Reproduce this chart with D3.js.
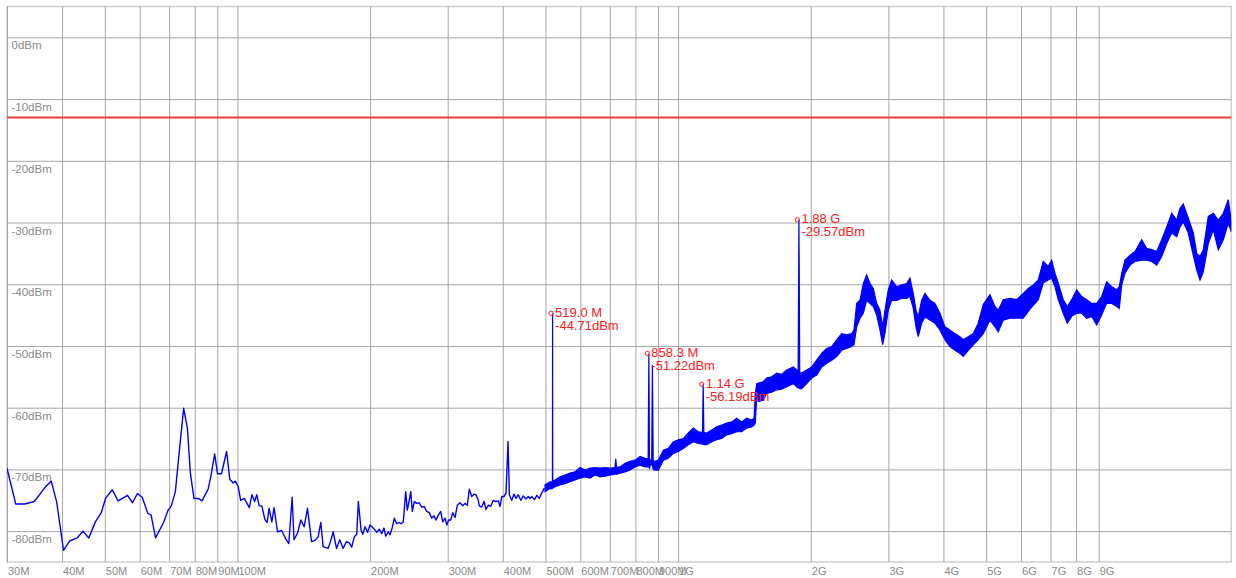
<!DOCTYPE html>
<html>
<head>
<meta charset="utf-8">
<script src="https://cdn.jsdelivr.net/npm/d3@7"></script>
<style>
  html, body { margin: 0; padding: 0; background: #fff; }
  svg { display: block; font-family: "Liberation Sans", Arial, Helvetica, sans-serif; }
</style>
</head>
<body>
<svg id="chart" width="1236" height="578"></svg>
<script>
// Frequency axis (MHz) ticks and labels
const freqTicks = [30, 40, 50, 60, 70, 80, 90, 100, 200, 300, 400, 500, 600, 700, 800, 900,
                   1000, 2000, 3000, 4000, 5000, 6000, 7000, 8000, 9000];
const freqTickLabels = ["30M", "40M", "50M", "60M", "70M", "80M", "90M", "100M", "200M", "300M",
                        "400M", "500M", "600M", "700M", "800M", "900M", "1G", "2G", "3G", "4G",
                        "5G", "6G", "7G", "8G", "9G"];

// Level axis (dBm) ticks and labels
const levelTicks = [0, -10, -20, -30, -40, -50, -60, -70, -80];
const levelTickLabels = ["0dBm", "-10dBm", "-20dBm", "-30dBm", "-40dBm", "-50dBm", "-60dBm", "-70dBm", "-80dBm"];

// Limit line (dBm)
const limitLevel = -13;

// Lower part of the sweep: frequency (MHz) and level (dBm)
const sweepFreq = [
  30, 31.4, 32.9, 34.6, 36.6, 37.8, 38.9, 40.3, 41.6, 43.3, 44.6, 46.0, 47.6, 49.1, 50.2, 52.0,
  53.6, 56.3, 57.8, 59.3, 60.8, 62.6, 63.7, 65.2, 68.0, 69.5, 70.8, 72.3, 74.0, 75.5, 77.0, 78.2,
  79.7, 81.6, 83.1, 85.8, 87.0, 88.8, 90.1, 92.0, 94.5, 96.1, 97.8, 98.9, 100.4, 101.7, 103.6,
  106.4, 107.9, 109.4, 110.6, 112.1, 113.6, 115.4, 116.8, 118.0, 119.7, 121.1, 123.3, 126.0,
  128.8, 130.8, 133.1, 134.4, 136.9, 139.3, 141.7, 144.2, 147.3, 149.9, 152.5, 154.6, 156.5,
  160.6, 162.6, 164.9, 167.8, 170.7, 173.7, 176.8, 179.4, 181.7, 184.2, 186.5, 188.1, 190.8,
  192.5, 194.8, 197.5, 199.9, 202.8, 205.2, 207.1, 209.9, 212.5, 215.1, 217.0, 220.0, 222.0,
  224.6, 227.0, 229.9, 232.7, 235.1, 237.9, 240.9, 242.9, 245.1, 247.3, 249.4, 252.0, 255.2,
  258.3, 261.9, 265.1, 268.9, 272.5, 276.0, 279.3, 282.2, 285.7, 289.3, 292.3, 295.9, 298.6,
  301.6, 304.8, 308.0, 311.7, 315.5, 319.9, 324.5, 328.5, 332.4, 335.9, 340.2, 344.3, 347.8,
  352.0, 353.9, 358.3, 362.7, 366.5, 370.9, 375.6, 380.7, 386.1, 390.8, 394.4, 397.9, 402.7,
  406.9, 411.2, 414.0, 419.3, 424.3, 428.7, 433.8, 439.4, 445.3, 451.8, 457.2, 461.2, 466,
  472, 478, 484, 489, 494, 497
];
const sweepLevel = [
  -69.8, -75.6, -75.6, -75.2, -72.9, -71.9, -75.3, -83.1, -81.6, -81.1, -80.0, -81.1, -78.5, -77.0, -74.7, -73.3,
  -75.1, -74.2, -75.4, -73.9, -74.5, -77.1, -77.4, -81.1, -78.6, -76.7, -75.9, -73.6, -66.3, -60.1, -63.3, -70.6,
  -74.7, -74.7, -75.1, -73.2, -71.2, -67.5, -70.7, -70.7, -67.1, -71.6, -72.2, -71.9, -72.8, -75.0, -74.7,
  -76.2, -74.1, -75.2, -74.1, -75.9, -75.9, -78.1, -78.6, -76.3, -78.5, -76.2, -80.1, -79.9,
  -81.3, -82.0, -74.5, -81.4, -80.3, -78.2, -79.3, -76.3, -81.7, -81.5, -80.9, -78.6, -82.5,
  -82.8, -81.7, -80.1, -82.8, -81.4, -82.8, -81.7, -81.9, -82.6, -80.9, -80.5, -75.2, -79.8,
  -80.5, -79.3, -80.2, -79.0, -79.4, -79.8, -80.2, -79.7, -80.4, -79.5, -80.8, -80.1, -80.6,
  -79.4, -77.9, -78.8, -78.6, -78.8, -78.5, -73.6, -76.6, -75.2, -73.6, -76.8, -75.2, -75.5,
  -75.4, -76.1, -76.0, -76.8, -77.0, -77.9, -77.5, -78.2, -77.4, -76.8, -78.5, -77.9, -79.0,
  -78.2, -78.2, -77.0, -77.8, -75.8, -75.4, -75.9, -75.5, -75.8, -73.2, -74.4, -74.0, -74.1,
  -75.0, -75.9, -76.1, -75.2, -76.5, -75.8, -76.0, -75.0, -75.2, -75.1, -76.0, -74.4, -74.4,
  -73.8, -65.5, -74.1, -75.0, -74.0, -74.7, -74.1, -75.0, -74.3, -74.8, -74.4, -74.7, -74.4,
  -74.9, -74.2, -74.7, -74.0, -73.4, -73.0
];

// Upper part of the sweep: per-bin frequency (MHz) with max and min level (dBm)
const bandFreq = [
  499, 512.2, 518.5, 519.0, 519.5, 525.7, 539.6, 553.9, 568.6, 583.6, 599.0, 614.9, 631.2, 647.9,
  665.1, 682.7, 700.7, 719.0, 721.9, 725.0, 738.3, 757.9, 777.9, 798.7, 819.9, 841.6, 855.0,
  858.3, 861.0, 867.0, 871.0, 874.3, 878.0, 886.7, 901.9, 925.7, 950.2, 975.4, 1001, 1027.5,
  1054.8, 1082.7, 1111.3, 1136, 1140, 1144, 1161.2, 1191.9, 1223.5, 1255.9, 1289.1, 1323.2,
  1358.2, 1394.2, 1431.0, 1469.0, 1486.8, 1496.9, 1507.9, 1520.5, 1560.8, 1588.7, 1630.7,
  1674.0, 1718.2, 1763.7, 1825.6, 1858.3, 1872, 1880, 1888, 1907.5, 1957.6, 2009.4, 2062.6,
  2117.2, 2173.2, 2230.8, 2289.8, 2350.4, 2412.6, 2476.6, 2506.4, 2542.0, 2586.3, 2631.3,
  2678.4, 2725.2, 2772.3, 2822.1, 2871.0, 2912.1, 2947.1, 2998.4, 3052.1, 3133.0, 3216.0,
  3301.0, 3358.6, 3416.8, 3465.4, 3507.2, 3569.3, 3631.4, 3727.6, 3826.3, 3927.5, 4031.3,
  4138.3, 4247.8, 4360.1, 4435.8, 4553.5, 4674.1, 4797.7, 4924.6, 5100.5, 5235.4, 5326.2,
  5467.0, 5662.0, 5863.6, 6069.4, 6230.0, 6394.7, 6564.6, 6738.0, 6916.5, 7040.0, 7162.9,
  7287.1, 7480.5, 7638.6, 7818.1, 8024.8, 8237.9, 8455.7, 8679.3, 8909.6, 9142.4, 9384.2,
  9635.8, 9891.1, 10026, 10153, 10329, 10603, 10884, 11272, 11570, 11876, 12190, 12513,
  12844, 13184, 13533, 13768, 14007, 14378, 14758, 15024, 15284, 15550, 15962, 16384,
  16817, 17263, 17720, 18000
];
const bandMax = [
  -72.5, -72.0, -72.0, -44.71, -71.9, -71.7, -71.2, -70.9, -70.6, -70.4, -69.7, -70.1, -69.8, -69.7,
  -69.8, -69.7, -69.8, -69.7, -68.3, -69.7, -69.6, -69.0, -68.7, -68.5, -67.9, -68.2, -68.3,
  -51.22, -68.4, -68.5, -68.5, -53.1, -68.6, -68.7, -68.5, -66.9, -66.6, -65.5, -65.2, -65.0,
  -64.1, -63.3, -63.9, -64.0, -56.19, -64.0, -64.1, -63.6, -63.1, -62.8, -62.5, -62.3,
  -61.7, -62.3, -61.7, -62.0, -61.7, -57.7, -56.1, -56.0, -55.8, -55.2, -55.0,
  -54.4, -54.6, -53.9, -53.4, -53.9, -54.0, -29.57, -54.2, -54.4, -53.9, -53.4, -52.3,
  -51.2, -50.4, -50.1, -49.0, -48.0, -48.2, -48.0, -47.4, -43.1, -42.6, -39.9,
  -38.5, -39.9, -40.7, -43.1, -44.2, -46.9, -44.2, -40.9, -39.3, -40.4, -40.1,
  -39.9, -39.0, -41.5, -44.2, -45.3, -42.6, -41.5, -42.6, -43.1, -44.7, -46.9,
  -47.4, -48.0, -48.5, -49.0, -48.5, -48.0, -46.3, -43.3, -41.7, -43.6, -44.2,
  -42.5, -42.3, -42.5, -41.5, -40.7, -40.1, -39.3, -36.3, -37.1, -36.1, -38.2,
  -39.8, -42.5, -43.6, -42.5, -40.9, -42.0, -42.5, -43.1, -43.1, -42.0, -39.6,
  -40.4, -40.9, -40.4, -38.2, -36.1, -35.3, -34.7, -32.8, -34.2, -34.4, -34.7, -32.8,
  -30.7, -28.5, -29.6, -27.7, -27.0, -29.3, -31.7, -35.0, -35.5, -34.4, -29.0, -28.5,
  -29.6, -28.5, -26.3, -29.8
];
const bandMin = [
  -73.6, -73.1, -73.1, -72.6, -73.0, -72.8, -72.5, -72.3, -72.0, -71.7, -71.4, -71.2, -71.4, -70.9,
  -71.2, -71.1, -70.9, -70.8, -70.6, -70.8, -70.6, -70.4, -70.1, -69.6, -69.3, -69.6, -69.6,
  -69.5, -69.8, -69.0, -69.3, -69.3, -70.0, -70.1, -70.1, -68.5, -68.2, -67.4, -67.1, -66.6,
  -66.0, -65.5, -65.8, -65.9, -65.8, -66.0, -66.0, -65.5, -65.2, -65.0, -64.4, -64.2,
  -63.9, -63.9, -63.3, -63.1, -62.8, -62.5, -58.2, -59.0, -58.8, -57.7, -57.5,
  -57.1, -57.0, -56.6, -56.1, -56.6, -56.8, -56.8, -56.9, -56.9, -56.1, -55.2, -54.7,
  -53.4, -52.8, -52.3, -51.7, -50.7, -50.4, -50.1, -49.8, -46.9, -45.5, -44.7,
  -42.6, -43.1, -43.6, -45.0, -47.4, -49.8, -47.9, -44.2, -42.6, -42.6, -42.3,
  -42.3, -42.0, -43.9, -46.9, -48.5, -46.3, -45.3, -45.8, -46.3, -47.4, -49.0,
  -50.1, -50.7, -51.2, -51.7, -50.7, -49.8, -49.0, -48.0, -45.8, -46.9, -47.7,
  -45.8, -45.5, -45.5, -45.5, -44.4, -43.4, -42.5, -39.8, -39.3, -39.0, -40.4,
  -42.5, -44.7, -46.3, -45.2, -44.7, -44.7, -45.5, -45.2, -46.6, -45.0, -43.1,
  -43.1, -43.6, -43.9, -40.1, -38.2, -36.9, -36.3, -36.1, -36.1, -36.3, -36.9, -35.5,
  -33.4, -31.7, -32.3, -30.7, -29.9, -31.7, -35.3, -37.7, -39.3, -38.0, -33.4, -31.2,
  -34.4, -32.8, -30.1, -31.5
];

// Peak markers
const markerFreq = [519.0, 858.3, 1140, 1880];
const markerLevel = [-44.71, -51.22, -56.19, -29.57];
const markerFreqLabel = ["519.0 M", "858.3 M", "1.14 G", "1.88 G"];

// ---------------------------------------------------------------------------
const plot = { left: 7, right: 1231.3, top: 6.5, bottom: 562 };

const svg = d3.select("#chart");

const x = d3.scaleLog().domain([30, 18000]).range([plot.left, plot.right]);
const y = d3.scaleLinear().domain([5, -85]).range([plot.top, plot.bottom]);

const tickColor = "#8a8a8a";
const gridColor = "#a6a6a6";

// Plot frame
svg.append("rect")
  .attr("x", plot.left).attr("y", plot.top)
  .attr("width", plot.right - plot.left).attr("height", plot.bottom - plot.top)
  .attr("fill", "none").attr("stroke", "#cfcfcf").attr("stroke-width", 1.5);

// Vertical grid + frequency labels
const xAxis = svg.append("g")
  .attr("transform", `translate(0,${plot.bottom})`)
  .call(d3.axisBottom(x)
    .tickValues(freqTicks)
    .tickSize(-(plot.bottom - plot.top))
    .tickFormat((d, i) => freqTickLabels[i]));
xAxis.select(".domain").remove();
xAxis.selectAll(".tick line").attr("stroke", gridColor).attr("stroke-width", 1);
xAxis.selectAll(".tick text")
  .attr("text-anchor", "start")
  .attr("x", 0.5).attr("y", 13).attr("dy", null)
  .attr("fill", tickColor)
  .style("font-size", "11px")
  .style("font-family", '"Liberation Sans", Arial, sans-serif');

// Horizontal grid + level labels
const yAxis = svg.append("g")
  .attr("transform", `translate(${plot.left},0)`)
  .call(d3.axisLeft(y)
    .tickValues(levelTicks)
    .tickSize(-(plot.right - plot.left))
    .tickFormat((d, i) => levelTickLabels[i]));
yAxis.select(".domain").remove();
yAxis.selectAll(".tick line").attr("stroke", gridColor).attr("stroke-width", 1);
yAxis.selectAll(".tick text")
  .attr("text-anchor", "start")
  .attr("x", 4.5).attr("y", 11.5).attr("dy", null)
  .attr("fill", tickColor)
  .style("font-size", "11.5px")
  .style("font-family", '"Liberation Sans", Arial, sans-serif');

// Clip for the trace
svg.append("clipPath").attr("id", "plotClip")
  .append("rect")
  .attr("x", plot.left).attr("y", plot.top)
  .attr("width", plot.right - plot.left).attr("height", plot.bottom - plot.top);

// Limit line
svg.append("line")
  .attr("x1", plot.left).attr("x2", plot.right)
  .attr("y1", y(limitLevel)).attr("y2", y(limitLevel))
  .attr("stroke", "#f03c3c").attr("stroke-width", 2);

const trace = svg.append("g").attr("clip-path", "url(#plotClip)");
const traceColor = "#0000ff";

// Lower sweep as a single line
const lowPts = sweepFreq.map((f, i) => [f, sweepLevel[i]]);
trace.append("path")
  .datum(lowPts)
  .attr("fill", "none")
  .attr("stroke", traceColor)
  .attr("stroke-width", 1.4)
  .attr("stroke-linejoin", "round")
  .attr("d", d3.line().x(d => x(d[0])).y(d => y(d[1])));

// Upper sweep as a min/max band
const bandPts = bandFreq.map((f, i) => ({ f, hi: bandMax[i], lo: bandMin[i] }));
trace.append("path")
  .datum(bandPts)
  .attr("fill", traceColor)
  .attr("stroke", traceColor)
  .attr("stroke-width", 1.2)
  .attr("stroke-linejoin", "miter")
  .attr("d", d3.area().x(d => x(d.f)).y0(d => y(d.lo)).y1(d => y(d.hi)));

// Markers
const markerColor = "#ff2020";
const markers = svg.append("g");
markerFreq.forEach((f, i) => {
  const mx = x(f), my = y(markerLevel[i]);
  markers.append("circle")
    .attr("cx", mx - 1.5).attr("cy", my).attr("r", 2.2)
    .attr("fill", "none").attr("stroke", markerColor).attr("stroke-width", 1);
  const t = markers.append("text")
    .attr("fill", markerColor)
    .style("font-size", "13px");
  t.append("tspan").attr("x", mx + 2.5).attr("y", my + 3.5).text(markerFreqLabel[i]);
  t.append("tspan").attr("x", mx + 2.5).attr("y", my + 16.5).text(markerLevel[i].toFixed(2) + "dBm");
});
</script>
</body>
</html>
